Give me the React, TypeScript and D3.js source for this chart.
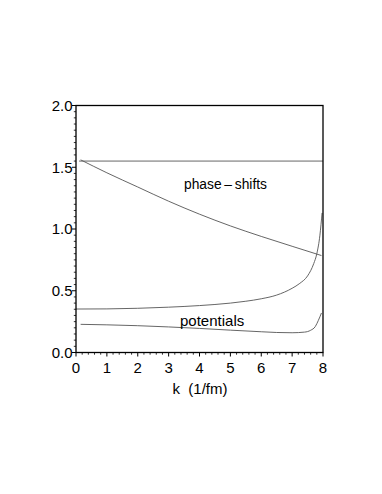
import React from "react";
import * as d3 from "d3";

const xTicks = [0, 1, 2, 3, 4, 5, 6, 7, 8];
const yTicks = [0, 0.5, 1, 1.5, 2];

const flatK = [0.1, 8];
const flatV = [1.55, 1.55];

const phaseK = [0.15, 1, 2, 3, 4, 5, 6, 7, 7.95];
const phaseV = [1.56, 1.455, 1.34, 1.225, 1.12, 1.025, 0.94, 0.86, 0.785];

const upperK = [0, 1, 2, 3, 4, 5, 5.5, 6, 6.5, 7, 7.25, 7.5, 7.7, 7.8, 7.9, 7.97];
const upperV = [0.352, 0.353, 0.358, 0.367, 0.38, 0.4, 0.415, 0.435, 0.465, 0.52, 0.56, 0.62, 0.72, 0.8, 0.95, 1.13];

const lowerK = [0.15, 1, 2, 3, 4, 5, 6, 6.5, 7, 7.4, 7.6, 7.75, 7.85, 7.95];
const lowerV = [0.228, 0.224, 0.217, 0.207, 0.195, 0.181, 0.168, 0.162, 0.16, 0.165, 0.18, 0.21, 0.26, 0.32];

const labels = ["phase\u2009\u2013\u2009shifts", "potentials"];
const xTitle = "k  (1/fm)";

export default function App() {
  const L = 76, R = 323, T = 105.5, B = 352.5;
  const x = d3.scaleLinear().domain([0, 8]).range([L, R]);
  const y = d3.scaleLinear().domain([0, 2]).range([B, T]);
  const line = d3
    .line<[number, number]>()
    .x((d) => x(d[0]))
    .y((d) => y(d[1]))
    .curve(d3.curveMonotoneX);
  const zip = (a: number[], b: number[]) => a.map((v, i) => [v, b[i]] as [number, number]);
  const series = [
    zip(flatK, flatV),
    zip(phaseK, phaseV),
    zip(upperK, upperV),
    zip(lowerK, lowerV),
  ];
  const xMinor = d3.range(0, 8.0001, 0.2).filter((v) => Math.abs(v - Math.round(v)) > 1e-6);
  const yMinor = d3.range(0, 2.0001, 0.05).filter((v) => Math.abs(v * 2 - Math.round(v * 2)) > 1e-6);
  const font = "'Liberation Sans', Arial, Helvetica, sans-serif";
  const fs = 15;
  return (
    <svg
      width={382}
      height={494}
      style={{ position: "absolute", left: 0, top: 0, background: "#fff" }}
      fontFamily={font}
    >
      <rect x={0} y={0} width={382} height={494} fill="#fff" />
      {series.map((s, i) => (
        <path key={i} d={line(s) || ""} fill="none" stroke="#555" strokeWidth={0.9} />
      ))}
      <rect x={L} y={T} width={R - L} height={B - T} fill="none" stroke="#000" strokeWidth={1.3} />
      {xTicks.map((t) => (
        <g key={"x" + t}>
          <line x1={x(t)} x2={x(t)} y1={B} y2={B + 4} stroke="#000" strokeWidth={1} />
          <text x={x(t)} y={372.5} fontSize={fs} textAnchor="middle" fill="#000">
            {t}
          </text>
        </g>
      ))}
      {xMinor.map((t, i) => (
        <line key={"xm" + i} x1={x(t)} x2={x(t)} y1={B} y2={B + 2.2} stroke="#000" strokeWidth={0.8} />
      ))}
      {yTicks.map((t) => (
        <g key={"y" + t}>
          <line x1={L - 4} x2={L} y1={y(t)} y2={y(t)} stroke="#000" strokeWidth={1} />
          <text x={72.5} y={y(t) + 5.3} fontSize={fs} textAnchor="end" fill="#000">
            {t.toFixed(1)}
          </text>
        </g>
      ))}
      {yMinor.map((t, i) => (
        <line key={"ym" + i} x1={L - 2.2} x2={L} y1={y(t)} y2={y(t)} stroke="#000" strokeWidth={0.8} />
      ))}
      <text x={184} y={189} fontSize={13.8} fill="#000">
        {labels[0]}
      </text>
      <text x={180} y={326} fontSize={fs} fill="#000">
        {labels[1]}
      </text>
      <text x={200} y={394} fontSize={fs} textAnchor="middle" fill="#000" style={{ whiteSpace: "pre" }}>
        {xTitle}
      </text>
    </svg>
  );
}
